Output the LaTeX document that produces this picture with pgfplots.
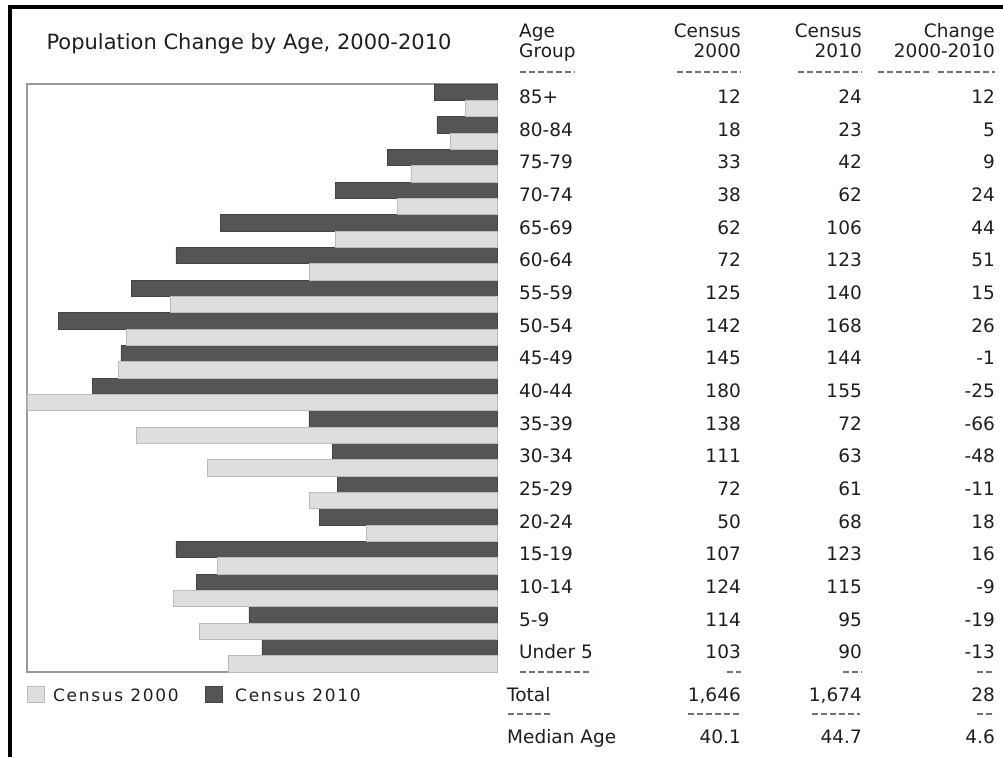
\documentclass[border=0pt]{standalone}
\usepackage{fontspec}
\setmainfont{DejaVu Sans}
\usepackage{pgfplots}
\usepackage{pgfplotstable}
\pgfplotsset{compat=1.18}

\definecolor{darkbar}{HTML}{555555}
\definecolor{darkedge}{HTML}{444444}
\definecolor{lightbar}{HTML}{DEDEDE}
\definecolor{lightedge}{HTML}{BBBBBB}
\definecolor{framegray}{HTML}{999999}
\definecolor{txt}{HTML}{1E1E1E}
\definecolor{dash}{HTML}{707070}

% row 0 = 85+ (top), row 17 = Under 5 (bottom)
\pgfplotstableread{
row label c2000 c2010 change
0  85+       12  24  12
1  80-84     18  23   5
2  75-79     33  42   9
3  70-74     38  62  24
4  65-69     62 106  44
5  60-64     72 123  51
6  55-59    125 140  15
7  50-54    142 168  26
8  45-49    145 144  -1
9  40-44    180 155 -25
10 35-39    138  72 -66
11 30-34    111  63 -48
12 25-29     72  61 -11
13 20-24     50  68  18
14 15-19    107 123  16
15 10-14    124 115  -9
16 5-9      114  95 -19
17 {Under 5} 103 90 -13
}\agedata

\newcommand{\tabfont}{\fontsize{18.5}{22}\selectfont}

\begin{document}
\begin{tikzpicture}[every node/.style={text=txt, inner sep=0pt}]
\path[use as bounding box] (0,0) rectangle (1003pt,-757pt);
\draw[line width=4pt] (10pt,-757pt) -- (10pt,-7.5pt) -- (1003pt,-7.5pt);

\node[anchor=base] at (249pt,-50pt) {\fontsize{21}{25}\selectfont Population Change by Age, 2000-2010};

\begin{axis}[
    at={(27pt,-84pt)}, anchor=north west,
    width=470pt, height=588pt, scale only axis,
    x dir=reverse, y dir=reverse,
    xmin=0, xmax=180, ymin=-0.5, ymax=17.5,
    ticks=none,
    axis line style={draw=framegray, line width=1.5pt},
    clip=false,
    every node near coord/.append style={font=\tabfont, text=txt, inner sep=0pt},
]
% bars
\addplot[xbar, bar width=0.5, bar shift=-0.25, fill=darkbar, draw=darkedge, line width=0.6pt]
    table[x=c2010, y=row] {\agedata};
\addplot[xbar, bar width=0.5, bar shift=0.25, fill=lightbar, draw=lightedge, line width=0.6pt]
    table[x=c2000, y=row] {\agedata};
% table columns
\addplot[draw=none, mark=none, nodes near coords, point meta=explicit symbolic,
    every node near coord/.append style={anchor=base west, xshift=22pt, yshift=-3pt}]
    table[x expr=0, y=row, meta=label] {\agedata};
\addplot[draw=none, mark=none, nodes near coords, point meta=explicit symbolic,
    every node near coord/.append style={anchor=base east, xshift=244pt, yshift=-3pt}]
    table[x expr=0, y=row, meta=c2000] {\agedata};
\addplot[draw=none, mark=none, nodes near coords, point meta=explicit symbolic,
    every node near coord/.append style={anchor=base east, xshift=365pt, yshift=-3pt}]
    table[x expr=0, y=row, meta=c2010] {\agedata};
\addplot[draw=none, mark=none, nodes near coords, point meta=explicit symbolic,
    every node near coord/.append style={anchor=base east, xshift=498pt, yshift=-3pt}]
    table[x expr=0, y=row, meta=change] {\agedata};
\end{axis}

% header
\node[anchor=base west] at (519pt,-38pt) {\tabfont Age};
\node[anchor=base west] at (519pt,-58pt) {\tabfont Group};
\node[anchor=base east] at (741pt,-38pt) {\tabfont Census};
\node[anchor=base east] at (741pt,-58pt) {\tabfont 2000};
\node[anchor=base east] at (862pt,-38pt) {\tabfont Census};
\node[anchor=base east] at (862pt,-58pt) {\tabfont 2010};
\node[anchor=base east] at (995pt,-38pt) {\tabfont Change};
\node[anchor=base east] at (995pt,-58pt) {\tabfont 2000-2010};

% totals
\node[anchor=base west] at (507pt,-701pt) {\tabfont Total};
\node[anchor=base east] at (741pt,-701pt) {\tabfont 1,646};
\node[anchor=base east] at (862pt,-701pt) {\tabfont 1,674};
\node[anchor=base east] at (995pt,-701pt) {\tabfont 28};
\node[anchor=base west] at (507pt,-743pt) {\tabfont Median Age};
\node[anchor=base east] at (741pt,-743pt) {\tabfont 40.1};
\node[anchor=base east] at (862pt,-743pt) {\tabfont 44.7};
\node[anchor=base east] at (995pt,-743pt) {\tabfont 4.6};

% rule dashes
\begin{scope}[draw=dash, line width=1.2pt, dash pattern=on 6pt off 3pt]
\draw (520pt,-72pt) -- (575pt,-72pt);
\draw (677pt,-72pt) -- (741pt,-72pt);
\draw (798pt,-72pt) -- (862pt,-72pt);
\draw (878pt,-72pt) -- (930pt,-72pt);
\draw (938pt,-72pt) -- (995pt,-72pt);
\draw (520pt,-672pt) -- (592pt,-672pt);
\draw (727pt,-672pt) -- (741pt,-672pt);
\draw (843pt,-672pt) -- (862pt,-672pt);
\draw (977pt,-672pt) -- (995pt,-672pt);
\draw (508pt,-714pt) -- (550pt,-714pt);
\draw (688pt,-714pt) -- (741pt,-714pt);
\draw (812pt,-714pt) -- (860pt,-714pt);
\draw (977pt,-714pt) -- (995pt,-714pt);
\end{scope}

% legend
\draw[draw=lightedge, fill=lightbar, line width=1pt] (27pt,-686pt) rectangle (44pt,-702pt);
\node[anchor=base west] at (53pt,-701pt) {\addfontfeature{LetterSpace=10}\fontsize{17}{20}\selectfont Census 2000};
\draw[draw=darkedge, fill=darkbar, line width=1pt] (205pt,-686pt) rectangle (222pt,-702pt);
\node[anchor=base west] at (235pt,-701pt) {\addfontfeature{LetterSpace=10}\fontsize{17}{20}\selectfont Census 2010};
\end{tikzpicture}
\end{document}
